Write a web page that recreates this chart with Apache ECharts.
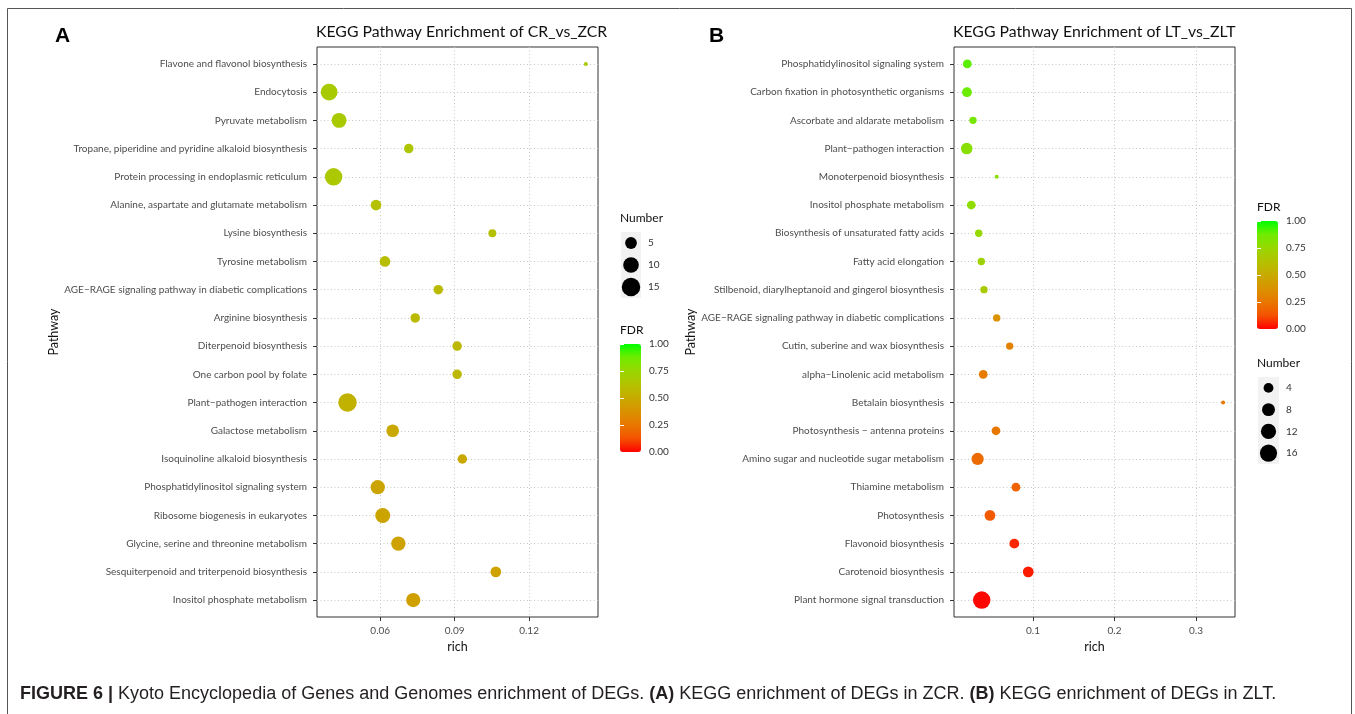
<!DOCTYPE html>
<html>
<head>
<meta charset="utf-8">
<script src="https://cdn.jsdelivr.net/npm/echarts@6/dist/echarts.min.js"></script>
<style>
  html, body { margin: 0; padding: 0; background: #ffffff; }
  #chart { width: 1355px; height: 714px; }
</style>
</head>
<body>
<div id="chart"></div>
<script>
// ---- Panel A: CR_vs_ZCR ----
const pathwaysA = [
  'Flavone and flavonol biosynthesis',
  'Endocytosis',
  'Pyruvate metabolism',
  'Tropane, piperidine and pyridine alkaloid biosynthesis',
  'Protein processing in endoplasmic reticulum',
  'Alanine, aspartate and glutamate metabolism',
  'Lysine biosynthesis',
  'Tyrosine metabolism',
  'AGE\u2212RAGE signaling pathway in diabetic complications',
  'Arginine biosynthesis',
  'Diterpenoid biosynthesis',
  'One carbon pool by folate',
  'Plant\u2212pathogen interaction',
  'Galactose metabolism',
  'Isoquinoline alkaloid biosynthesis',
  'Phosphatidylinositol signaling system',
  'Ribosome biogenesis in eukaryotes',
  'Glycine, serine and threonine metabolism',
  'Sesquiterpenoid and triterpenoid biosynthesis',
  'Inositol phosphate metabolism'
];
const richA   = [0.1429, 0.0394, 0.0434, 0.0715, 0.0412, 0.0583, 0.1052, 0.0619, 0.0834, 0.0741,
                 0.0910, 0.0910, 0.0468, 0.0650, 0.0931, 0.0590, 0.0610, 0.0673, 0.1066, 0.0733];
const numberA = [1, 12, 9, 3, 13, 4, 2, 4, 3, 3, 3, 3, 15, 6, 3, 8, 9, 8, 4, 8];
const fdrA    = [0.68, 0.68, 0.67, 0.65, 0.66, 0.62, 0.62, 0.60, 0.59, 0.58,
                 0.57, 0.57, 0.54, 0.49, 0.49, 0.47, 0.47, 0.46, 0.46, 0.45];
const xTicksA = [0.06, 0.09, 0.12];
const sizeBreaksA = [5, 10, 15];

// ---- Panel B: LT_vs_ZLT ----
const pathwaysB = [
  'Phosphatidylinositol signaling system',
  'Carbon fixation in photosynthetic organisms',
  'Ascorbate and aldarate metabolism',
  'Plant\u2212pathogen interaction',
  'Monoterpenoid biosynthesis',
  'Inositol phosphate metabolism',
  'Biosynthesis of unsaturated fatty acids',
  'Fatty acid elongation',
  'Stilbenoid, diarylheptanoid and gingerol biosynthesis',
  'AGE\u2212RAGE signaling pathway in diabetic complications',
  'Cutin, suberine and wax biosynthesis',
  'alpha\u2212Linolenic acid metabolism',
  'Betalain biosynthesis',
  'Photosynthesis \u2212 antenna proteins',
  'Amino sugar and nucleotide sugar metabolism',
  'Thiamine metabolism',
  'Photosynthesis',
  'Flavonoid biosynthesis',
  'Carotenoid biosynthesis',
  'Plant hormone signal transduction'
];
const richB   = [0.0194, 0.0190, 0.0264, 0.0187, 0.0555, 0.0243, 0.0334, 0.0366, 0.0399, 0.0555,
                 0.0714, 0.0390, 0.3333, 0.0546, 0.0321, 0.0791, 0.0472, 0.0771, 0.0942, 0.0371];
const numberB = [3, 4, 2, 6, 1, 3, 2, 2, 2, 2, 2, 3, 1, 3, 7, 3, 5, 4, 5, 17];
const fdrB    = [0.90, 0.88, 0.85, 0.80, 0.79, 0.78, 0.76, 0.72, 0.68, 0.38,
                 0.30, 0.27, 0.25, 0.25, 0.21, 0.18, 0.15, 0.06, 0.04, 0.01];
const xTicksB = [0.1, 0.2, 0.3];
const sizeBreaksB = [4, 8, 12, 16];

const fdrTicks = [0, 0.25, 0.5, 0.75, 1];

// red -> green gradient (perceptual steps)
const FDR_COLORS = ['#FF0000', '#F45300', '#E87700', '#DA9200', '#C8AA00',
                    '#B3C200', '#98D700', '#70EB00', '#00FF00'];

const FONT = 'Lato, "Noto Sans", sans-serif';
const AXIS_TEXT = '#4D4D4D';
const FRAME = '#333333';
const DOT = { color: '#C6C6C6', width: 1, type: [1, 2.5] };

// area-proportional point sizes (diameter in px)
function sizeScale(counts, dMin, dMax) {
  const lo = Math.min(...counts), hi = Math.max(...counts);
  return n => dMin + (dMax - dMin) * Math.sqrt(Math.max(0, n - lo) / (hi - lo));
}
const sizeA = sizeScale(numberA, 4, 18.5);
const sizeB = sizeScale(numberB, 4, 17.5);

// panel geometry
const PANEL_TOP = 47, PANEL_H = 570, PANEL_W = 281;
const ROW_PAD = PANEL_H * 0.6 / 20.2;   // discrete-axis expansion
const panels = [
  { left: 317, xMin: 0.0345, xMax: 0.1478 },
  { left: 954, xMin: 0.0031, xMax: 0.3479 }
];

const grids = [], xAxes = [], yAxes = [];
panels.forEach((p, k) => {
  const names = k === 0 ? pathwaysA : pathwaysB;
  const ticks = k === 0 ? xTicksA : xTicksB;
  // framed panel with the rich axis
  grids.push({ left: p.left, top: PANEL_TOP, width: PANEL_W, height: PANEL_H,
               show: true, borderColor: FRAME, borderWidth: 1, backgroundColor: '#ffffff' });
  xAxes.push({
    type: 'value', gridIndex: 2 * k, min: p.xMin, max: p.xMax,
    axisLine: { show: false },
    axisTick: { show: true, customValues: ticks, length: 4, lineStyle: { color: FRAME } },
    axisLabel: { customValues: ticks, margin: 9, fontSize: 10, color: AXIS_TEXT, fontFamily: FONT },
    splitLine: { show: true, lineStyle: DOT },
    name: 'rich', nameLocation: 'middle', nameGap: 20,
    nameTextStyle: { fontSize: 12.5, color: '#111', fontFamily: FONT }
  });
  yAxes.push({ type: 'value', gridIndex: 2 * k, show: false, min: 0, max: 1 });
  // inner rows for the pathways
  grids.push({ left: p.left, top: PANEL_TOP + ROW_PAD, width: PANEL_W, height: PANEL_H - 2 * ROW_PAD });
  xAxes.push({ type: 'value', gridIndex: 2 * k + 1, show: false, min: p.xMin, max: p.xMax });
  yAxes.push({
    type: 'category', gridIndex: 2 * k + 1, data: names, inverse: true, boundaryGap: false,
    axisLine: { show: false },
    axisTick: { show: true, length: 4, lineStyle: { color: FRAME } },
    axisLabel: { interval: 0, margin: 10, fontSize: 10, color: AXIS_TEXT, fontFamily: FONT },
    splitLine: { show: true, lineStyle: DOT },
    name: 'Pathway', nameLocation: 'middle', nameRotate: 90, nameGap: 252,
    nameTextStyle: { fontSize: 12.5, color: '#111', fontFamily: FONT }
  });
});

// size legends (grids 4, 5)
const keyBoxes = [
  { left: 621, top: 232, width: 20, height: 66, breaks: sizeBreaksA },
  { left: 1258, top: 377, width: 21, height: 87, breaks: sizeBreaksB }
];
keyBoxes.forEach(b => {
  grids.push({ left: b.left, top: b.top, width: b.width, height: b.height,
               show: true, backgroundColor: '#F2F2F2', borderWidth: 0 });
  const gi = grids.length - 1;
  xAxes.push({ type: 'value', gridIndex: gi, show: false, min: -1, max: 1 });
  yAxes.push({
    type: 'category', gridIndex: gi, data: b.breaks.map(String), inverse: true, position: 'right',
    axisLine: { show: false }, axisTick: { show: false }, splitLine: { show: false },
    axisLabel: { interval: 0, margin: 7, fontSize: 10, color: '#333', fontFamily: FONT }
  });
});

// colour bar tick labels (grids 6, 7)
const bars = [
  { left: 620, top: 344, width: 21, height: 108 },
  { left: 1257, top: 221, width: 21, height: 108 }
];
bars.forEach(b => {
  grids.push({ left: b.left, top: b.top, width: b.width, height: b.height });
  const gi = grids.length - 1;
  xAxes.push({ type: 'value', gridIndex: gi, show: false, min: 0, max: 1 });
  yAxes.push({
    type: 'value', gridIndex: gi, min: 0, max: 1, interval: 0.25, position: 'right',
    axisLine: { show: false }, splitLine: { show: false },
    axisTick: { show: true, inside: true, length: 4, lineStyle: { color: '#ffffff', width: 1 } },
    axisLabel: { margin: 8, fontSize: 10, color: '#333', fontFamily: FONT,
                 formatter: v => v.toFixed(2) },
    z: 10
  });
  yAxes.push({
    type: 'value', gridIndex: gi, min: 0, max: 1, interval: 0.25, position: 'left',
    axisLine: { show: false }, splitLine: { show: false }, axisLabel: { show: false },
    axisTick: { show: true, inside: true, length: 4, lineStyle: { color: '#ffffff', width: 1 } },
    z: 10
  });
});

function panelSeries(rich, counts, fdr, xi, yi, sizeFn) {
  return {
    type: 'scatter', xAxisIndex: xi, yAxisIndex: yi,
    data: rich.map((r, i) => [r, i, counts[i], fdr[i]]),
    encode: { x: 0, y: 1 },
    symbolSize: v => sizeFn(v[2]),
    itemStyle: { opacity: 1, borderWidth: 0 },
    emphasis: { disabled: true },
    z: 5
  };
}
function keySeries(breaks, xi, yi, sizeFn) {
  return {
    type: 'scatter', xAxisIndex: xi, yAxisIndex: yi,
    data: breaks.map((n, i) => [0, i, n]),
    symbolSize: v => sizeFn(v[2]),
    itemStyle: { color: '#000000', opacity: 1 },
    emphasis: { disabled: true },
    z: 5
  };
}

const series = [
  panelSeries(richA, numberA, fdrA, 1, 1, sizeA),
  panelSeries(richB, numberB, fdrB, 3, 3, sizeB),
  keySeries(sizeBreaksA, 4, 4, sizeA),
  keySeries(sizeBreaksB, 5, 5, sizeB)
];

const visualMaps = bars.map((b, k) => ({
  type: 'continuous', seriesIndex: k, dimension: 3, min: 0, max: 1,
  inRange: { color: FDR_COLORS },
  left: b.left, top: b.top, itemWidth: b.width, itemHeight: b.height,
  calculable: false, hoverLink: false, padding: 0, text: null, z: 1
}));

const t = (text, left, top, style) => ({
  text, left, top, padding: 0,
  textStyle: Object.assign({ fontFamily: FONT, fontWeight: 'normal', color: '#111' }, style)
});

const titles = [
  t('A', 55, 26, { fontFamily: '"Liberation Sans", Arial, sans-serif', fontWeight: 'bold', fontSize: 21, color: '#000' }),
  t('B', 709, 26, { fontFamily: '"Liberation Sans", Arial, sans-serif', fontWeight: 'bold', fontSize: 21, color: '#000' }),
  t('KEGG Pathway Enrichment of CR_vs_ZCR', 316, 24, { fontSize: 15.8, color: '#111' }),
  t('KEGG Pathway Enrichment of LT_vs_ZLT', 953, 24, { fontSize: 15.8, color: '#111' }),
  t('Number', 620, 212, { fontSize: 12, color: '#111' }),
  t('FDR', 620, 324, { fontSize: 12, color: '#111' }),
  t('FDR', 1257, 201, { fontSize: 12, color: '#111' }),
  t('Number', 1257, 357, { fontSize: 12, color: '#111' }),
  {
    text: '{b|FIGURE 6 |} Kyoto Encyclopedia of Genes and Genomes enrichment of DEGs. {b|(A)} KEGG enrichment of DEGs in ZCR. {b|(B)} KEGG enrichment of DEGs in ZLT.',
    left: 20, top: 685, padding: 0,
    textStyle: {
      fontFamily: '"Liberation Sans", Arial, sans-serif', fontSize: 18, fontWeight: 'normal', color: '#231F20',
      rich: { b: { fontFamily: '"Liberation Sans", Arial, sans-serif', fontSize: 18, fontWeight: 'bold', color: '#231F20' } }
    }
  }
];

const chart = echarts.init(document.getElementById('chart'), null, { renderer: 'canvas' });
chart.setOption({
  animation: false,
  backgroundColor: '#ffffff',
  title: titles,
  grid: grids,
  xAxis: xAxes,
  yAxis: yAxes,
  visualMap: visualMaps,
  series: series,
  graphic: [{
    type: 'rect', silent: true, z: -10,
    shape: { x: 7.5, y: 8.5, width: 1344, height: 740 },
    style: { fill: 'none', stroke: '#555555', lineWidth: 1 }
  }]
});
</script>
</body>
</html>
